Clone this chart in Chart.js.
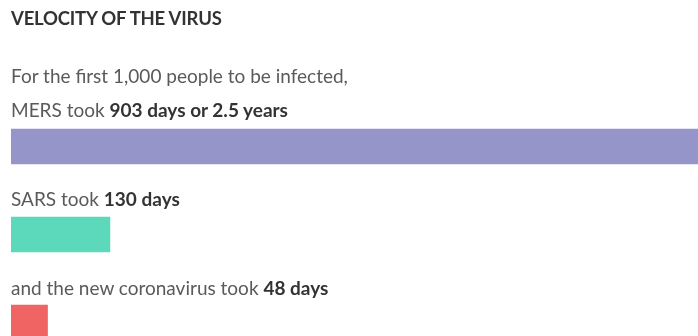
<!DOCTYPE html>
<html>
<head>
<meta charset="utf-8">
<script src="https://cdn.jsdelivr.net/npm/chart.js@4"></script>
<style>
  html, body { margin: 0; padding: 0; background: #fff; overflow: hidden; }
  #wrap { position: relative; width: 698px; height: 336px; overflow: hidden; }
  #wrap canvas { position: absolute; left: 0; top: 0; }
  .txt { position: absolute; left: 11px; font-family: Lato, sans-serif; font-size: 19px;
         line-height: 19px; color: #5a5a5a; white-space: nowrap; }
  .txt b { color: #333; font-weight: 700; }
  .title { font-size: 18.5px; line-height: 18.5px; font-weight: 700; color: #333; letter-spacing: -0.2px; }
</style>
</head>
<body>
<div id="wrap">
  <canvas id="barChart" width="698" height="370"></canvas>
  <div class="txt title" style="top:9px">VELOCITY OF THE VIRUS</div>
  <div class="txt" style="top:66px">For the first 1,000 people to be infected,</div>
  <div class="txt" style="top:100px">MERS took <b>903 days or 2.5 years</b></div>
  <div class="txt" style="top:189px">SARS took <b>130 days</b></div>
  <div class="txt" style="top:278px">and the new coronavirus took <b>48 days</b></div>
</div>
<script>
const viruses = ["MERS", "SARS", "New coronavirus"];
const daysToThousand = [903, 130, 48];
const barColors = ["#9695c9", "#5cd8bb", "#f06464"];

document.addEventListener("DOMContentLoaded", function () {
  const ctx = document.getElementById("barChart").getContext("2d");
  new Chart(ctx, {
    type: "bar",
    data: {
      labels: viruses,
      datasets: [
        {
          label: "Days to 1,000 infections",
          data: daysToThousand,
          backgroundColor: barColors,
          borderWidth: 0,
          barThickness: 35,
        },
      ],
    },
    options: {
      indexAxis: "y",
      responsive: false,
      animation: false,
      layout: { padding: { left: 11, right: 0, top: 102.5, bottom: 3.5 } },
      plugins: { legend: { display: false }, tooltip: { enabled: false } },
      scales: {
        x: { display: false, min: 0, max: 903 },
        y: { display: false },
      },
    },
  });
});
</script>
</body>
</html>
